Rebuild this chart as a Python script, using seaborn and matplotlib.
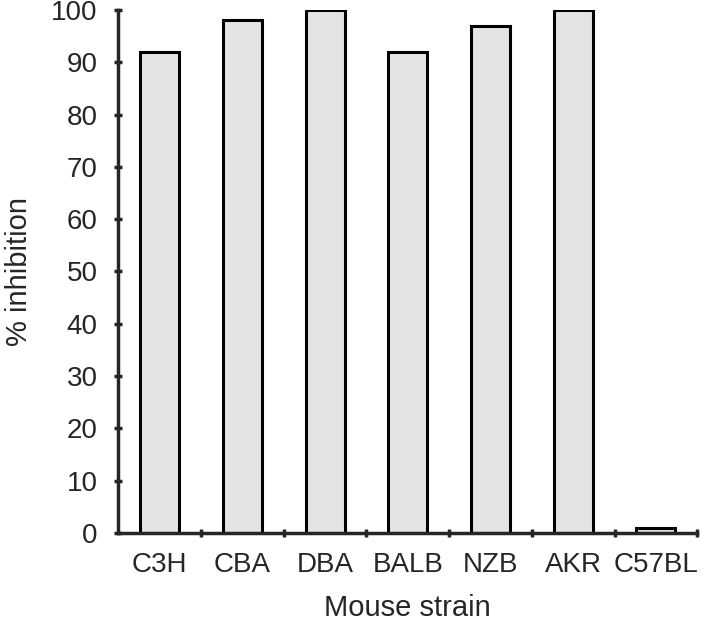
import matplotlib
matplotlib.use("Agg")
import matplotlib.pyplot as plt
import seaborn as sns
import pandas as pd

strains = ["C3H", "CBA", "DBA", "BALB", "NZB", "AKR", "C57BL"]
inhibition = [92, 98, 100, 92, 97, 100, 1]

df = pd.DataFrame({"strain": strains, "inhibition": inhibition})

sns.set_style("ticks")
plt.rcParams["font.family"] = ["Liberation Sans", "DejaVu Sans"]

fig = plt.figure(figsize=(7.05, 6.23), dpi=100)
ax = fig.add_axes([0.168, 0.1445, 0.821, 0.8395])

sns.barplot(data=df, x="strain", y="inhibition", color="#e4e4e4",
            edgecolor="black", linewidth=2.2, width=0.47, saturation=1, ax=ax)

ax.set_xlim(-0.5, 6.5)
ax.set_ylim(0, 100)
ax.set_yticks(range(0, 101, 10))
ax.tick_params(axis="y", labelsize=20, direction="inout", length=6, width=2.5, pad=12)
ax.tick_params(axis="x", which="major", length=0, labelsize=20, pad=14)
ax.set_xticks([i + 0.5 for i in range(len(strains))], minor=True)
ax.tick_params(axis="x", which="minor", direction="inout", length=6, width=2.5)

for side in ["top", "right"]:
    ax.spines[side].set_visible(False)
for side in ["left", "bottom"]:
    ax.spines[side].set_linewidth(2.5)

ax.set_xlabel("Mouse strain", fontsize=21, labelpad=11.5)
ax.set_ylabel("% inhibition", fontsize=21, labelpad=13)

fig.savefig("out.png", dpi=100)
